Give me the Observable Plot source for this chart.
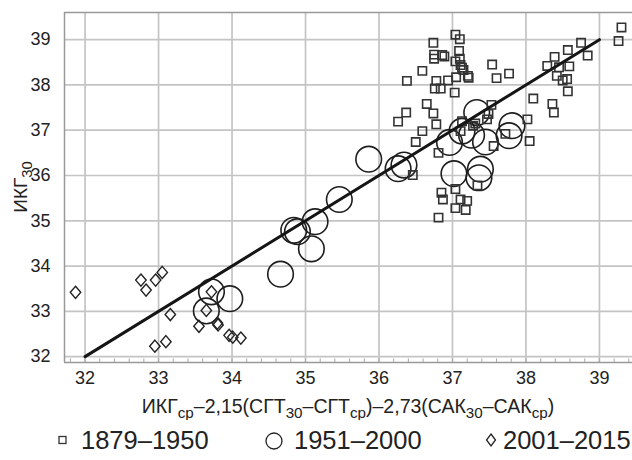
<!DOCTYPE html>
<html><head><meta charset="utf-8">
<script src="https://cdn.jsdelivr.net/npm/d3@7"></script>
<script src="https://cdn.jsdelivr.net/npm/@observablehq/plot@0.6"></script>
<style>
html,body{margin:0;padding:0;background:#fff;overflow:hidden;width:632px;height:460px}
#chart{position:relative;width:632px;height:460px;font-family:"Liberation Sans",Arial,sans-serif;color:#222}
#legend{position:absolute;left:0;top:420px;width:700px;height:40px}
</style></head><body><div id="chart"></div>
<script>
// 1879–1950 (squares)
const p1X = [37.04,37.10,36.74,36.75,36.75,36.86,36.89,37.09,37.04,37.10,37.11,37.13,37.15,37.21,37.22,37.05,36.59,36.38,36.78,36.94,36.76,36.84,37.03,37.54,37.60,37.77,36.65,36.37,36.26,36.74,36.78,36.59,36.50,36.81,36.46,36.85,36.87,37.04,37.11,37.20,37.04,37.18,36.81,37.34,37.53,37.49,37.47,37.13,37.11,37.28,37.31,37.72,38.02,38.05,37.56,38.10,38.36,38.38,38.29,38.39,38.45,38.42,38.50,38.56,38.57,38.59,38.57,38.75,38.84,39.30,39.26];
const p1Y = [39.11,39.01,38.93,38.67,38.58,38.66,38.63,38.75,38.52,38.58,38.44,38.38,38.33,38.20,38.16,38.17,38.31,38.09,38.09,38.10,37.92,37.92,37.83,38.45,38.15,38.25,37.58,37.39,37.19,37.37,37.13,36.98,36.74,36.50,36.01,35.62,35.47,35.70,35.47,35.44,35.28,35.24,35.07,35.78,37.56,37.36,37.24,37.20,36.98,37.10,37.15,36.92,37.24,36.76,36.65,37.70,37.58,37.39,38.42,38.62,38.39,38.20,38.10,38.13,38.77,38.41,37.86,38.93,38.65,39.27,38.97];
// 1951–2000 (circles)
const p2X = [35.86,36.26,36.34,35.46,35.13,34.84,34.89,35.08,34.66,33.97,33.72,33.65,36.96,37.13,37.26,37.33,37.45,37.77,37.81,37.02,37.38,37.36];
const p2Y = [36.36,36.15,36.23,35.47,34.98,34.79,34.76,34.38,33.82,33.28,33.43,33.01,36.73,36.98,36.89,37.39,36.74,36.88,37.10,36.04,36.14,35.95];
// 2001–2015 (diamonds)
const p3X = [31.87,32.76,32.83,32.96,33.05,33.16,32.95,33.10,33.55,33.65,33.72,33.80,33.81,33.96,34.01,34.12];
const p3Y = [33.42,33.69,33.47,33.69,33.86,32.93,32.23,32.33,32.67,33.02,33.43,32.74,32.70,32.47,32.43,32.41];
// regression line
const fitX = [32, 39];
const fitY = [32, 39];
const xTicks = [32,33,34,35,36,37,38,39];
const yTicks = [32,33,34,35,36,37,38,39];
const legendLabels = ["1879–1950","1951–2000","2001–2015"];
const xTitleParts = [["ИКГ",0],["ср",1],["–2,15(СГТ",0],["30",1],["–СГТ",0],["ср",1],[")–2,73(САК",0],["30",1],["–САК",0],["ср",1],[")",0]];
const yTitleParts = [["ИКГ",0],["30",1]];

const zip = (xs, ys) => xs.map((x,i) => ({x, y: ys[i]}));
const s1 = zip(p1X,p1Y), s2 = zip(p2X,p2Y), s3 = zip(p3X,p3Y), fit = zip(fitX,fitY);
const xDom = [31.72, 39.45], yDom = [31.87, 39.6];
const minor = d3.range(31.8, 39.45, 0.2).map(v => +v.toFixed(1));

const diamond = {draw(ctx, size){ const r = Math.sqrt(size/Math.PI); const hw = r*0.95, hh = r*1.1;
  ctx.moveTo(0,-hh); ctx.lineTo(hw,0); ctx.lineTo(0,hh); ctx.lineTo(-hw,0); ctx.closePath(); }};

const W = 632, H = 420, mL = 64, mT = 12, mB = 58;
const plot = Plot.plot({
  width: W, height: H, marginLeft: mL, marginRight: 0, marginTop: mT, marginBottom: mB,
  style: {fontFamily: '"Liberation Sans",Arial,sans-serif', fontSize: "18px", color: "#222", background: "#fff"},
  x: {domain: xDom, ticks: xTicks, tickSize: 0, tickPadding: 9, label: null, tickFormat: d => String(d)},
  y: {domain: yDom, ticks: yTicks, tickSize: 0, tickPadding: 14, label: null, tickFormat: d => String(d)},
  marks: [
    Plot.gridX(xTicks, {stroke: "#c4c4c4", strokeOpacity: 1, strokeWidth: 1.7}),
    Plot.gridY(yTicks, {stroke: "#c4c4c4", strokeOpacity: 1, strokeWidth: 1.7}),
    Plot.ruleX(minor, {x: d => d, y1: yDom[0], y2: yDom[0] + 0.08, stroke: "#aaa", strokeWidth: 1}),
    Plot.ruleY([yDom[0], yDom[1]], {stroke: "#999", strokeWidth: 1.5}),
    Plot.ruleX([xDom[0]], {stroke: "#999", strokeWidth: 1.5}),
    Plot.dot(s2, {x: "x", y: "y", r: 12.8, stroke: "#1e1e1e", strokeWidth: 1.6, fill: "none"}),
    Plot.dot(s1, {x: "x", y: "y", symbol: "square", r: 4.7, stroke: "#333", strokeWidth: 1.6, fill: "none"}),
    Plot.dot(s3, {x: "x", y: "y", symbol: diamond, r: 5.5, stroke: "#222", strokeWidth: 1.4, fill: "none"}),
    Plot.line(fit, {x: "x", y: "y", stroke: "#151515", strokeWidth: 3})
  ]
});
document.getElementById("chart").appendChild(plot);

function addRich(sel, parts, subShift){
  let cur = 0;
  parts.forEach(([t, sub]) => {
    const target = sub ? subShift : 0;
    sel.append("tspan").attr("dy", target - cur).attr("font-size", sub ? "0.78em" : null).text(t);
    cur = target;
  });
}
const svg = d3.select(plot);
const xt = svg.append("text").attr("x", (mL + W)/2).attr("y", 413).attr("text-anchor","middle")
  .attr("font-size", 19.5).attr("fill", "#222");
addRich(xt, xTitleParts, 5);
const yt = svg.append("text").attr("transform", `translate(27,${(mT + H - mB)/2}) rotate(-90)`)
  .attr("text-anchor","middle").attr("font-size", 19).attr("fill", "#222");
addRich(yt, yTitleParts, 5);

// legend (below svg)
const lg = d3.select("#chart").append("svg").attr("id","legend").attr("width",700).attr("height",40);
const items = [{sx: 62.5, tx: 81, sym: "square"}, {sx: 274, tx: 294, sym: "circle"}, {sx: 491, tx: 503, sym: "diamond"}];
const cy = 20;
items.forEach((it, i) => {
  if (it.sym === "square") lg.append("rect").attr("x", it.sx-3.5).attr("y", cy-3.5).attr("width",7).attr("height",7).attr("fill","none").attr("stroke","#333").attr("stroke-width",1.3);
  if (it.sym === "circle") lg.append("circle").attr("cx", it.sx).attr("cy", cy+1).attr("r",8).attr("fill","none").attr("stroke","#222").attr("stroke-width",1.3);
  if (it.sym === "diamond") lg.append("path").attr("d", `M${it.sx},${cy-6}L${it.sx+4.5},${cy}L${it.sx},${cy+6}L${it.sx-4.5},${cy}Z`).attr("fill","none").attr("stroke","#222").attr("stroke-width",1.3);
  lg.append("text").attr("x", it.tx).attr("y", cy + 9).attr("font-size", 25.5).attr("fill","#222")
    .attr("font-family",'"Liberation Sans",Arial,sans-serif').text(legendLabels[i]);
});
</script></body></html>
